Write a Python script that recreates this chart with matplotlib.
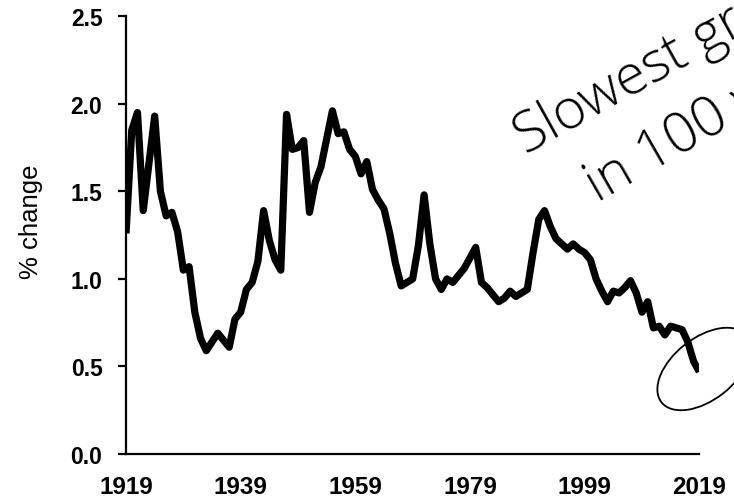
import matplotlib
matplotlib.use("Agg")
import matplotlib.pyplot as plt
from matplotlib.patches import Ellipse
from matplotlib.transforms import IdentityTransform

years = list(range(1919, 2020))
pct_change = [
    1.26, 1.85, 1.95, 1.39, 1.66, 1.93, 1.50, 1.36, 1.38, 1.27,   # 1919-1928
    1.05, 1.07, 0.81, 0.66, 0.59, 0.64, 0.69, 0.65, 0.61, 0.77,   # 1929-1938
    0.81, 0.94, 0.98, 1.10, 1.39, 1.22, 1.11, 1.05, 1.94, 1.74,   # 1939-1948
    1.75, 1.79, 1.38, 1.55, 1.64, 1.80, 1.96, 1.83, 1.84, 1.74,   # 1949-1958
    1.70, 1.60, 1.67, 1.51, 1.45, 1.40, 1.26, 1.09, 0.96, 0.98,   # 1959-1968
    1.00, 1.19, 1.48, 1.20, 1.00, 0.94, 1.00, 0.98, 1.02, 1.06,   # 1969-1978
    1.12, 1.18, 0.98, 0.95, 0.91, 0.87, 0.89, 0.93, 0.90, 0.92,   # 1979-1988
    0.94, 1.15, 1.34, 1.39, 1.30, 1.23, 1.20, 1.17, 1.20, 1.17,   # 1989-1998
    1.15, 1.11, 1.00, 0.93, 0.87, 0.93, 0.92, 0.95, 0.99, 0.92,   # 1999-2008
    0.81, 0.87, 0.72, 0.73, 0.68, 0.73, 0.72, 0.71, 0.64, 0.53,   # 2009-2018
    0.47,                                                         # 2019
]
xtick_years = [1919, 1939, 1959, 1979, 1999, 2019]
ytick_vals = [0.0, 0.5, 1.0, 1.5, 2.0, 2.5]
y_label = "% change"
note_line1 = "Slowest growth"
note_line2 = "in 100 years"

fig = plt.figure(figsize=(7.34, 5.02), dpi=100)
ax = fig.add_axes([0.1717, 0.0936, 0.781, 0.872])
ax.plot(years, pct_change, color="black", linewidth=5.2, solid_joinstyle="round",
        solid_capstyle="butt")
ax.set_xlim(1919, 2019)
ax.set_ylim(0, 2.5)
ax.spines["top"].set_visible(False)
ax.spines["right"].set_visible(False)
for s in ("left", "bottom"):
    ax.spines[s].set_linewidth(1.6)
ax.set_yticks(ytick_vals)
ax.set_yticklabels([f"{v:.1f}" for v in ytick_vals], fontfamily="Liberation Sans",
                   fontweight="bold", fontsize=16.5)
ax.set_xticks(xtick_years)
ax.set_xticklabels([str(y) for y in xtick_years], fontfamily="Liberation Sans",
                   fontweight="bold", fontsize=17.5)
ax.tick_params(axis="y", direction="out", length=6, width=1.6, pad=11)
ax.tick_params(axis="x", length=0, pad=15)
ax.set_ylabel(y_label, fontfamily="Liberation Sans", fontsize=18.5)
ax.yaxis.set_label_coords(-0.145, 0.532)

fig.text(0.716, 0.691, note_line1, rotation=29, rotation_mode="anchor",
         ha="left", va="baseline", fontsize=40, fontfamily="Open Sans",
         fontweight="light", color="black")
fig.text(0.814, 0.596, note_line2, rotation=30, rotation_mode="anchor",
         ha="left", va="baseline", fontsize=40, fontfamily="Open Sans",
         fontweight="light", color="black")

ell = Ellipse((704, 132), 108, 62, angle=38, fill=False, edgecolor="black",
              linewidth=1.3, transform=IdentityTransform())
fig.patches.append(ell)

fig.savefig("out.png", dpi=100)
